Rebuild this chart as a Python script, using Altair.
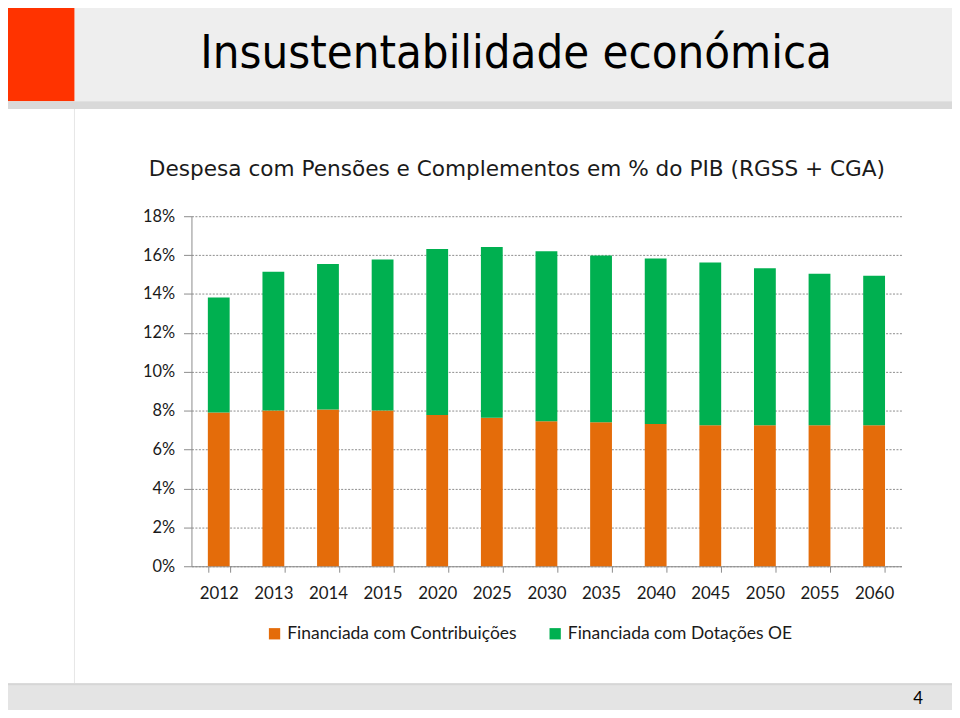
import altair as alt
import pandas as pd

years = ["2012", "2013", "2014", "2015", "2020", "2025", "2030", "2035",
         "2040", "2045", "2050", "2055", "2060"]
contribuicoes = [7.91, 8.01, 8.06, 8.01, 7.78, 7.63, 7.45, 7.40, 7.32, 7.25, 7.25, 7.25, 7.25]
dotacoes = [5.91, 7.14, 7.48, 7.77, 8.54, 8.79, 8.75, 8.58, 8.51, 8.37, 8.08, 7.79, 7.69]
series_names = ["Financiada com Contribuições", "Financiada com Dotações OE"]
series_colors = ["#E46C0A", "#00B050"]
y_ticks = [0, 2, 4, 6, 8, 10, 12, 14, 16, 18]

title_text = "Insustentabilidade económica"
subtitle_text = "Despesa com Pensões e Complementos em % do PIB (RGSS + CGA)"
page_number = "4"

rows = []
for i, y in enumerate(years):
    rows.append({"ano": y, "serie": series_names[0], "valor": contribuicoes[i], "ord": 0})
    rows.append({"ano": y, "serie": series_names[1], "valor": dotacoes[i], "ord": 1})
df = pd.DataFrame(rows)

W, H = 716, 353
PL, PT = 185, 207  # plot origin at page (193, 215)

bars = alt.Chart(df).mark_bar(size=22).encode(
    x=alt.X("ano:N", sort=years, title=None,
            scale=alt.Scale(paddingInner=0.6, paddingOuter=0.3),
            axis=alt.Axis(labelAngle=0, labelFont="Lato", labelFontSize=17,
                          labelColor="#1a1a1a", labelPadding=14,
                          tickBand="extent", tickSize=6, tickColor="#8c8c8c",
                          domainColor="#8c8c8c", grid=False)),
    y=alt.Y("valor:Q", stack="zero", title=None,
            scale=alt.Scale(domain=[0, 18], nice=False),
            axis=alt.Axis(values=y_ticks, labelExpr="datum.value + '%'",
                          labelFont="Lato", labelFontSize=16.5, labelColor="#1a1a1a",
                          labelPadding=9, tickSize=8, tickColor="#8c8c8c",
                          domainColor="#8c8c8c", gridColor="#8c8c8c",
                          gridDash=[2, 1.5], gridWidth=1)),
    color=alt.Color("serie:N", title=None,
                    scale=alt.Scale(domain=series_names, range=series_colors),
                    legend=alt.Legend(orient="none", legendX=75, legendY=412,
                                      direction="horizontal", symbolType="square",
                                      symbolSize=130, symbolStrokeWidth=0,
                                      labelFont="Lato", labelFontSize=17.6,
                                      labelColor="#1a1a1a", columnPadding=30,
                                      labelLimit=400, labelOffset=4)),
    order=alt.Order("ord:Q", sort="ascending"),
)

deco_df = pd.DataFrame({"k": [0]})

def rect(x1, x2, y1, y2, color):
    return alt.Chart(deco_df).mark_rect(color=color).encode(
        x=alt.value(x1 - 8 - PL), x2=alt.value(x2 - 8 - PL),
        y=alt.value(y1 - 8 - PT), y2=alt.value(y2 - 8 - PT))

def text(t, x, y, size, font, color="#000000", align="left"):
    return alt.Chart(deco_df).mark_text(
        text=t, font=font, fontSize=size, color=color, align=align,
        baseline="middle").encode(x=alt.value(x - 8 - PL), y=alt.value(y - 8 - PT))

header = rect(75, 970, 0, 99, "#EEEEEE")
red = rect(0, 75, 0, 99, "#FF3300")
stripe = rect(0, 970, 99, 107, "#D9D9D9")
vline = rect(74.5, 75.5, 107, 686, "#E6E6E6")
footer = rect(0, 970, 686, 720, "#E4E4E4")
footer_top = rect(0, 970, 686, 688, "#D6D6D6")

title = text(title_text, 202, 52, 47.3, "DejaVu Sans Condensed, DejaVu Sans")
subtitle = text(subtitle_text, 150, 167, 21.8, "DejaVu Sans", "#1a1a1a")
pnum = text(page_number, 921, 702, 17, "Lato")

chart = alt.layer(header, red, stripe, vline, footer, footer_top, bars,
                  title, subtitle, pnum).properties(
    width=W, height=H,
    padding={"left": PL, "top": PT, "right": 952 - PL - W, "bottom": 702 - PT - H},
    autosize=alt.AutoSizeParams(type="none"),
    background="white",
).configure_view(stroke=None)

chart.save("out.html", embed_options={"renderer": "svg", "actions": False})
